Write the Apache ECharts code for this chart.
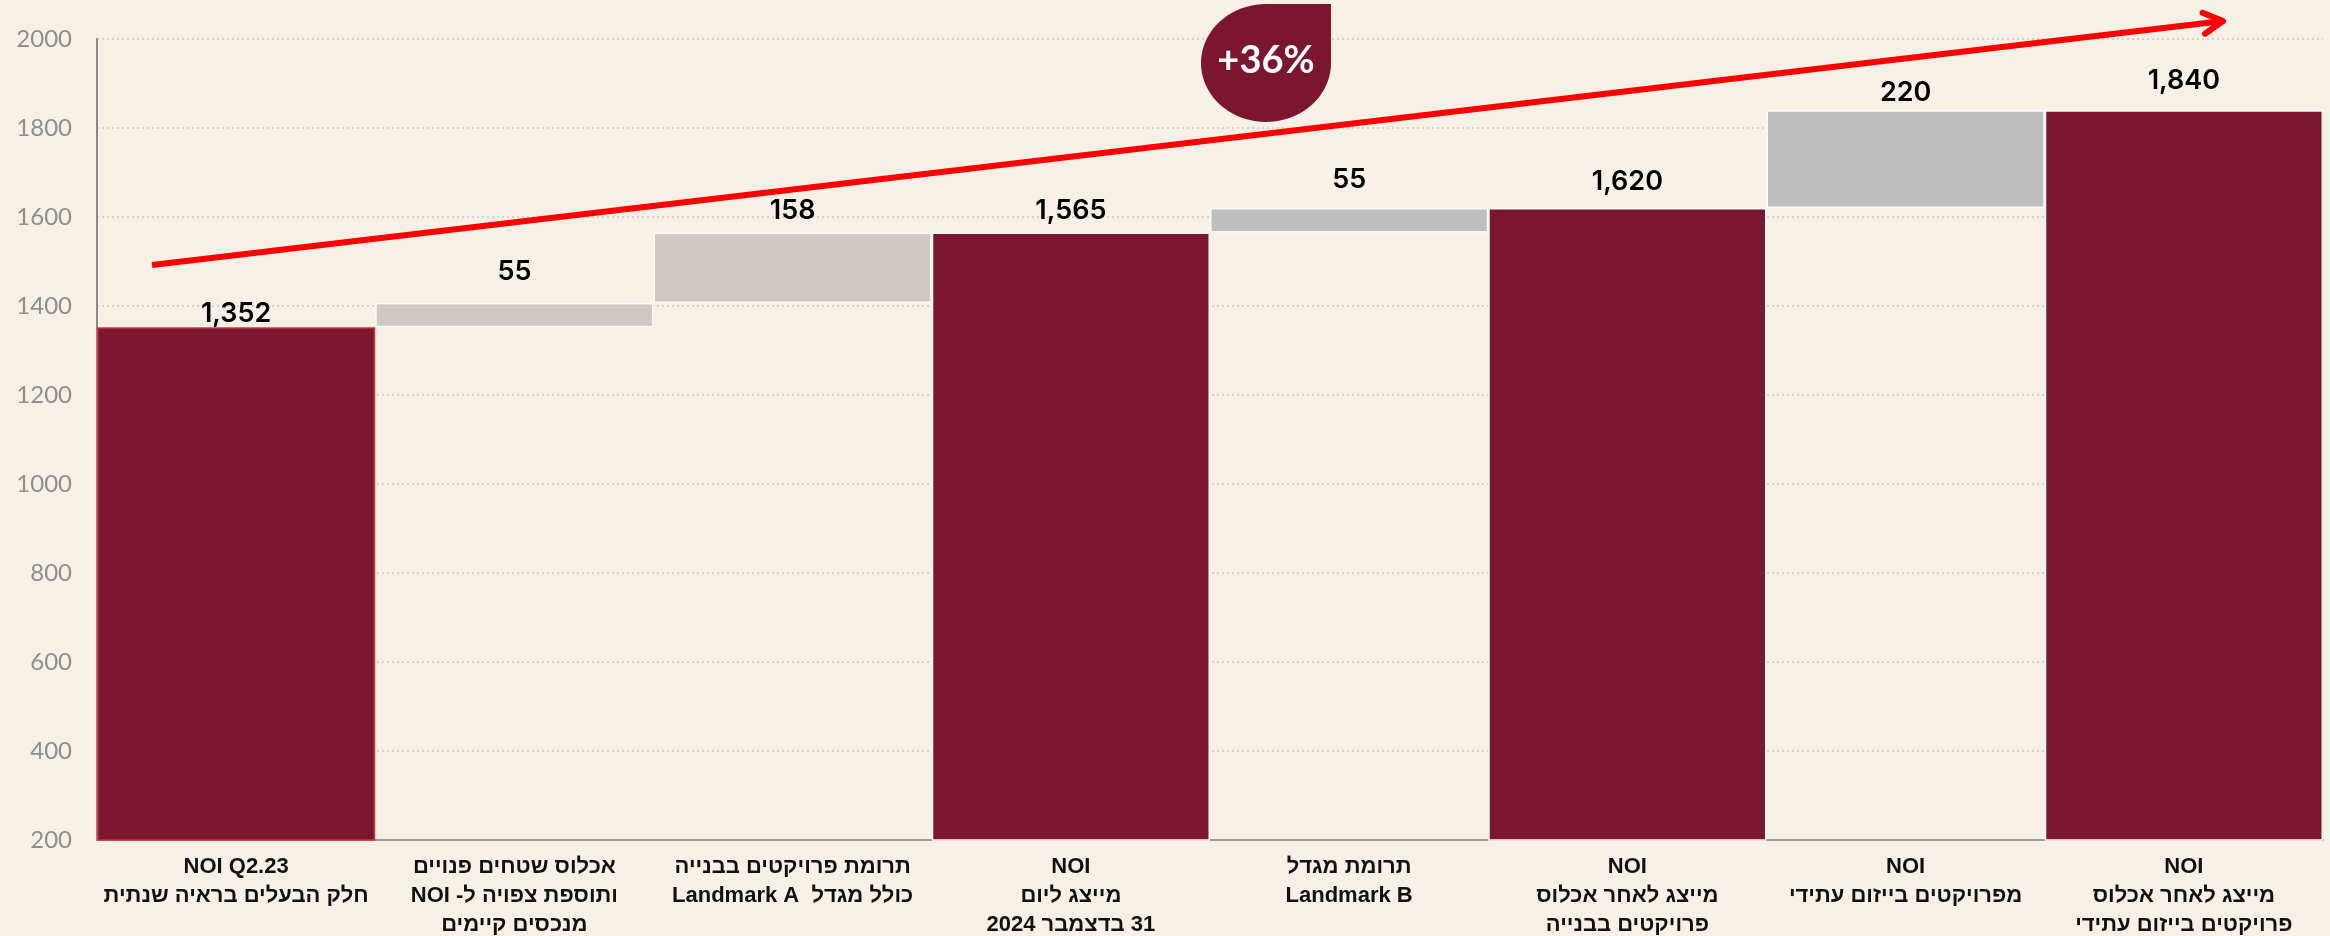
<!DOCTYPE html>
<html>
<head>
<meta charset="utf-8">
<script src="https://cdn.jsdelivr.net/npm/echarts@6/dist/echarts.min.js"></script>
<style>
  html, body { margin: 0; padding: 0; background: #F6F0E7; }
  #chart { width: 2330px; height: 936px; }
</style>
</head>
<body>
<div id="chart"></div>
<script>
var chart = echarts.init(document.getElementById('chart'));

// categories, one array of lines per bar (logical order, RTL text)
const categories = [
  ['NOI Q2.23', 'חלק הבעלים בראיה שנתית'],
  ['אכלוס שטחים פנויים', 'ותוספת צפויה ל- NOI', 'מנכסים קיימים'],
  ['תרומת פרויקטים בבנייה', 'כולל מגדל  Landmark A'],
  ['NOI', 'מייצג ליום', '31 בדצמבר 2024'],
  ['תרומת מגדל', 'Landmark B'],
  ['NOI', 'מייצג לאחר אכלוס', 'פרויקטים בבנייה'],
  ['NOI', 'מפרויקטים בייזום עתידי'],
  ['NOI', 'מייצג לאחר אכלוס', 'פרויקטים בייזום עתידי']
];
const values = [1352, 55, 158, 1565, 55, 1620, 220, 1840];
const isTotal = [true, false, false, true, false, true, false, true];
const yTicks = { min: 200, max: 2000, interval: 200 };
const growthLabel = '+36%';

const colors = ['#7B1530', '#D0C8C2', '#D0C8C2', '#7B1530', '#BEBEBE', '#7B1530', '#BEBEBE', '#7B1530'];
const labelGap = [0, 18, 8, 8, 15, 13, 4, 16];

// invisible base for floating bars
var base = [];
var running = 0;
values.forEach(function (v, i) {
  if (isTotal[i]) { base.push(0); running = v; }
  else { base.push(running); running += v; }
});

var rtl = function (s) { return '\u202B' + s + '\u202C'; };
var catLabels = categories.map(function (lines) {
  return lines.map(rtl).join('\n');
});

// arrow and badge (annotation, in pixels)
var arrowFrom = [152, 265], arrowTo = [2223, 21];
var ang = Math.atan2(arrowTo[1] - arrowFrom[1], arrowTo[0] - arrowFrom[0]);
var arm = 22, spread = 0.5;
var chevron = [
  [arrowTo[0] - arm * Math.cos(ang - spread), arrowTo[1] - arm * Math.sin(ang - spread)],
  arrowTo,
  [arrowTo[0] - arm * Math.cos(ang + spread), arrowTo[1] - arm * Math.sin(ang + spread)]
];
var bx = 1266, by = 63, rx = 65, ry = 59;
var badgePts = [[bx, by - ry], [bx + rx, by - ry]];
for (var k = 0; k <= 60; k++) {
  var t = (k / 60) * 1.5 * Math.PI;
  badgePts.push([bx + rx * Math.cos(t), by + ry * Math.sin(t)]);
}

var option = {
  backgroundColor: '#F6F0E7',
  animation: false,
  grid: { left: 97, right: 7, top: 39, bottom: 96, outerBoundsMode: 'none', containLabel: false },
  xAxis: {
    type: 'category',
    data: catLabels,
    axisLine: { show: true, lineStyle: { color: '#9A9A9A', width: 2 } },
    axisTick: { show: false },
    axisLabel: {
      interval: 0,
      margin: 12,
      color: '#111',
      fontFamily: '"Liberation Sans Narrow", "Liberation Sans", sans-serif',
      fontWeight: 'bold',
      fontSize: 22,
      lineHeight: 29
    }
  },
  yAxis: {
    type: 'value',
    min: yTicks.min,
    max: yTicks.max,
    interval: yTicks.interval,
    axisLine: { show: true, lineStyle: { color: '#8A8A8A', width: 2 } },
    axisTick: { show: false },
    axisLabel: {
      color: '#8E8E8E', fontSize: 24, margin: 25, fontFamily: 'Lato, sans-serif',
      formatter: function (v) { return String(v); }
    },
    splitLine: { lineStyle: { color: '#D6D1CA', width: 2, type: [2, 3] } }
  },
  series: [
    {
      type: 'bar',
      stack: 'w',
      data: base,
      itemStyle: { color: 'transparent' },
      barCategoryGap: '0%',
      silent: true
    },
    {
      type: 'bar',
      stack: 'w',
      barCategoryGap: '0%',
      data: values.map(function (v, i) {
        return {
          value: v,
          itemStyle: {
            color: colors[i],
            borderColor: i === 0 ? '#D9303F' : '#FAFAFA',
            borderWidth: 1.5
          },
          label: { distance: labelGap[i] }
        };
      }),
      label: {
        show: true,
        position: 'top',
        color: '#000',
        fontFamily: 'Inter, sans-serif',
        fontWeight: 600,
        fontSize: 27,
        formatter: function (p) {
          return isTotal[p.dataIndex] ? p.value.toLocaleString('en-US') : String(p.value);
        }
      }
    }
  ],
  graphic: [
    {
      type: 'line',
      z: 100,
      shape: { x1: arrowFrom[0], y1: arrowFrom[1], x2: arrowTo[0], y2: arrowTo[1] },
      style: { stroke: '#FF0000', lineWidth: 6 }
    },
    {
      type: 'polyline',
      z: 100,
      shape: { points: chevron },
      style: { stroke: '#FF0000', lineWidth: 6, fill: null, lineCap: 'round', lineJoin: 'round' }
    },
    {
      type: 'polygon',
      z: 101,
      shape: { points: badgePts },
      style: { fill: '#7B1530' }
    },
    {
      type: 'text',
      z: 102,
      x: bx,
      y: by - 2,
      style: {
        text: growthLabel,
        fill: '#fff',
        font: 'bold 38px Lato, sans-serif',
        align: 'center',
        verticalAlign: 'middle'
      }
    }
  ]
};

chart.setOption(option);
</script>
</body>
</html>
